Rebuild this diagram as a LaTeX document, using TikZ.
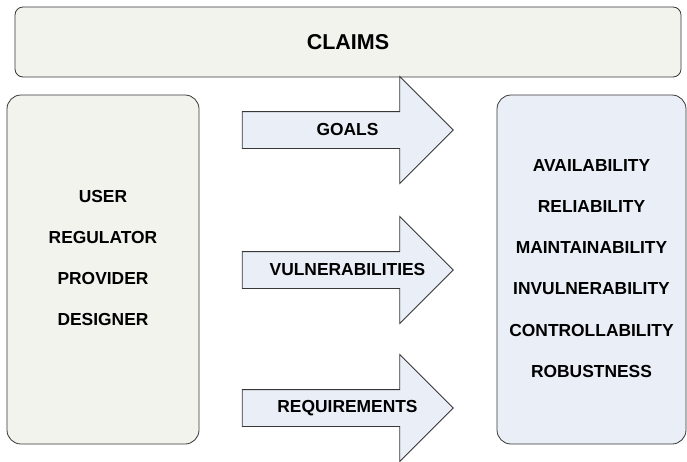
\documentclass[tikz,border=0pt]{standalone}
\usepackage{fontspec}
\setmainfont{Liberation Sans}
\usetikzlibrary{shapes,positioning}
\definecolor{paleolive}{RGB}{242,243,236}
\definecolor{paleblue}{RGB}{233,238,247}
\definecolor{edgegray}{RGB}{55,55,55}
\tikzset{
    claimbox/.style={draw=edgegray, fill=paleolive, line width=0.8pt, rounded corners=8pt, minimum width=666pt, minimum height=70pt},
    actorbox/.style={draw=edgegray, fill=paleolive, line width=0.8pt, rounded corners=14pt, minimum width=192pt, minimum height=349pt},
    propbox/.style={draw=edgegray, fill=paleblue, line width=0.8pt, rounded corners=14pt, minimum width=189pt, minimum height=349pt},
    flow/.style={draw=edgegray, fill=paleblue, line width=0.8pt, single arrow, single arrow head extend=35pt,
                 single arrow tip angle=90, minimum height=211pt, minimum width=106pt,
                 text height=12pt, text depth=0pt, inner ysep=12pt, inner xsep=0pt},
    item/.style={font=\bfseries\fontsize{17.4}{20}\selectfont},
    title/.style={font=\bfseries\fontsize{21.5}{24}\selectfont},
}

\begin{document}
\begin{tikzpicture}[x=1pt, y=-1pt]
    \useasboundingbox (0,0) rectangle (687,461);

    % Claims
    \node[claimbox] (claims) at (348,42) {};
    \node[title] (claimsT) at (348,42) {CLAIMS};

    % Stakeholders
    \node[actorbox] (actors) at (103,269.5) {};
    \foreach \i/\y/\t in {1/197/USER, 2/238/REGULATOR, 3/279/PROVIDER, 4/320/DESIGNER} {
        \node[item] (actor\i) at (103,\y) {\t};
    }

    % Arrows
    \foreach \n/\y/\t in {goals/130/GOALS, vuln/270/VULNERABILITIES, req/408/REQUIREMENTS} {
        \node[flow] (\n) at (338.5,\y) {};
        \node[item] (\n T) at (347.5,\y) {\t};
    }

    % Properties
    \node[propbox] (props) at (591.5,269.5) {};
    \foreach \i/\y/\t in {1/166/AVAILABILITY, 2/207/RELIABILITY, 3/248/MAINTAINABILITY,
                          4/289/INVULNERABILITY, 5/331/CONTROLLABILITY, 6/372/ROBUSTNESS} {
        \node[item] (prop\i) at (591.5,\y) {\t};
    }
\end{tikzpicture}
\end{document}
